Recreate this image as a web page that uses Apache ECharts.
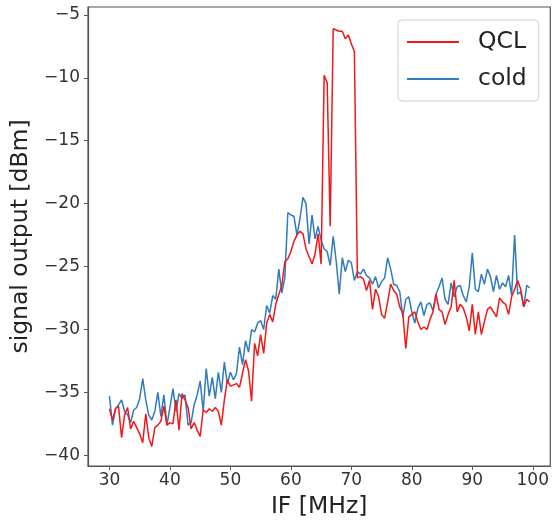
<!DOCTYPE html>
<html>
<head>
<meta charset="utf-8">
<script src="https://cdn.jsdelivr.net/npm/echarts@6/dist/echarts.min.js"></script>
<style>
html,body{margin:0;padding:0;background:#fff;}
#chart{width:552px;height:524px;}
</style>
</head>
<body>
<div id="chart"></div>
<script>
// Frequency grid (MHz): 30.0 to 99.5 in 0.5 MHz steps
const freqStart = 30;
const freqStep = 0.5;

// QCL series (dBm)
const qcl = [
  -36.3,-37.2,-36.3,-36.1,-38.6,-36.8,-36.2,-37.9,-37.3,-37.8,
  -38.3,-39.0,-36.7,-38.6,-39.3,-37.8,-37.6,-37.3,-36.1,-37.6,
  -37.4,-37.5,-35.6,-38.0,-35.1,-35.6,-36.2,-37.9,-37.4,-38.0,
  -38.5,-36.4,-36.6,-36.3,-36.5,-36.2,-36.5,-37.6,-35.6,-34.0,
  -34.5,-34.4,-34.3,-34.6,-33.5,-32.4,-33.3,-35.7,-31.1,-32.1,
  -30.4,-31.9,-29.5,-28.8,-29.4,-28.0,-27.2,-26.5,-24.6,-24.4,
  -23.8,-23.0,-22.5,-22.2,-22.4,-23.6,-24.2,-24.8,-24.0,-22.4,
  -24.8,-9.8,-10.4,-21.8,-6.1,-6.2,-6.3,-6.3,-6.9,-6.6,
  -7.3,-7.9,-25.9,-25.8,-26.0,-26.9,-26.1,-28.4,-26.8,-27.4,
  -28.8,-29.1,-27.8,-26.4,-26.9,-27.2,-28.2,-28.7,-31.5,-29.0,
  -28.8,-28.6,-29.4,-30.0,-29.8,-30.0,-29.2,-28.6,-27.2,-28.4,
  -28.6,-29.6,-28.8,-28.2,-26.1,-28.6,-28.0,-28.3,-29.0,-30.1,
  -28.0,-30.4,-28.6,-30.4,-29.4,-28.4,-28.2,-28.6,-29.0,-27.5,
  -27.8,-28.0,-28.8,-27.4,-26.8,-26.1,-26.8,-28.2,-27.6,-27.8
];

// cold series (dBm)
const cold = [
  -35.3,-37.6,-36.3,-36.0,-35.6,-36.5,-36.8,-37.4,-36.4,-36.2,
  -35.5,-33.9,-35.6,-36.8,-37.2,-36.5,-35.0,-36.9,-35.2,-37.6,
  -36.2,-34.7,-36.5,-35.1,-35.5,-35.2,-37.6,-37.4,-36.0,-35.2,
  -34.1,-36.5,-33.1,-35.3,-33.8,-35.5,-33.4,-35.0,-32.6,-34.3,
  -33.4,-34.0,-33.5,-31.4,-32.8,-30.9,-31.8,-30.0,-30.2,-29.5,
  -29.3,-30.0,-28.1,-28.7,-27.3,-27.6,-25.2,-27.1,-25.9,-20.7,
  -20.9,-21.0,-22.5,-21.2,-19.5,-20.0,-23.2,-20.9,-22.8,-21.8,
  -22.9,-23.6,-23.8,-24.9,-22.6,-24.6,-27.2,-24.3,-25.4,-24.5,
  -24.7,-26.1,-25.4,-25.6,-25.2,-25.7,-25.9,-26.4,-25.8,-26.7,
  -26.2,-25.9,-24.3,-25.2,-26.4,-26.5,-27.0,-29.0,-27.6,-27.4,
  -28.6,-29.5,-28.3,-27.8,-28.9,-28.0,-27.9,-28.5,-27.2,-26.6,
  -25.9,-27.6,-28.0,-26.3,-27.4,-26.6,-26.5,-27.3,-27.8,-26.6,
  -23.9,-26.8,-27.0,-25.6,-26.4,-25.2,-25.8,-27.0,-25.7,-26.8,
  -26.3,-26.6,-25.7,-27.3,-22.5,-27.2,-27.0,-28.2,-26.5,-26.7
];

const xTicks = [30, 40, 50, 60, 70, 80, 90, 100];
const yTicks = [-40, -35, -30, -25, -20, -15, -10, -5];

const toPairs = arr => arr.map((v, i) => [freqStart + i * freqStep, v]);
const fmt = v => (v < 0 ? '\u2212' + Math.abs(v) : String(v));
const FONT = 'DejaVu Sans';

const chart = echarts.init(document.getElementById('chart'), null, {renderer: 'canvas'});
chart.setOption({
  animation: false,
  backgroundColor: '#fff',
  grid: {
    left: 88, right: 1, top: 7, bottom: 54,
    show: true, borderColor: '#555', borderWidth: 1.2, backgroundColor: 'transparent'
  },
  legend: {
    orient: 'vertical',
    left: 398, top: 20,
    padding: [8, 12, 8, 9],
    icon: 'rect',
    itemWidth: 52, itemHeight: 2, itemGap: 9,
    backgroundColor: 'rgba(255,255,255,0.8)',
    borderColor: '#d0d0d0', borderWidth: 1, borderRadius: 4,
    textStyle: {fontFamily: FONT, fontSize: 23.5, color: '#222', lineHeight: 28, padding: [0, 0, 0, 14]},
    data: ['QCL', 'cold']
  },
  xAxis: {
    type: 'value', min: 26.45, max: 102.9,
    name: 'IF [MHz]', nameLocation: 'middle', nameGap: 29,
    nameTextStyle: {fontFamily: FONT, fontSize: 23.5, color: '#222'},
    axisLine: {show: true, lineStyle: {color: '#555', width: 1.2}},
    axisTick: {show: true, inside: false, length: 4, lineStyle: {color: '#555'}, customValues: xTicks},
    axisLabel: {fontFamily: FONT, fontSize: 17, color: '#333', margin: 6, customValues: xTicks, formatter: fmt},
    splitLine: {show: false}
  },
  yAxis: {
    type: 'value', min: -40.85, max: -4.37,
    name: 'signal output [dBm]', nameLocation: 'middle', nameGap: 48, nameRotate: 90,
    nameTextStyle: {fontFamily: FONT, fontSize: 23.5, color: '#222'},
    axisLine: {show: true, lineStyle: {color: '#555', width: 1.2}},
    axisTick: {show: true, inside: false, length: 4, lineStyle: {color: '#555'}, customValues: yTicks},
    axisLabel: {fontFamily: FONT, fontSize: 17, color: '#333', margin: 8, customValues: yTicks, formatter: fmt},
    splitLine: {show: false}
  },
  series: [
    {name: 'QCL', type: 'line', data: toPairs(qcl), symbol: 'none', color: '#f21818',
     lineStyle: {width: 1.5, color: '#f21818'}, z: 3},
    {name: 'cold', type: 'line', data: toPairs(cold), symbol: 'none', color: '#2f7bbd',
     lineStyle: {width: 1.5, color: '#2f7bbd'}, z: 2}
  ]
});
</script>
</body>
</html>
